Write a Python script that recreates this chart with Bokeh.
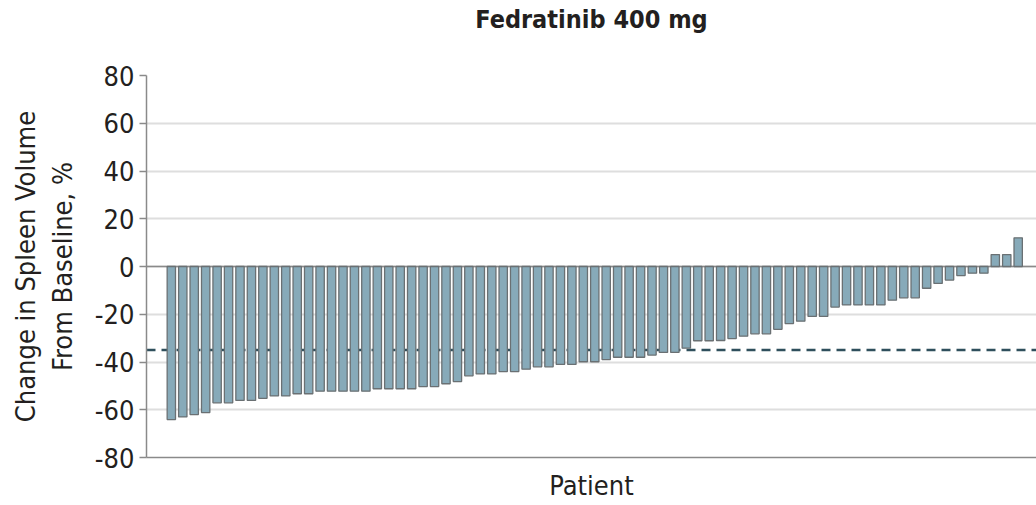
from bokeh.embed import file_html
from bokeh.models import ColumnDataSource, Range1d, Span, FixedTicker, LinearAxis
from bokeh.plotting import figure
from bokeh.resources import INLINE

# Best change in spleen volume from baseline per patient (waterfall, sorted)
change_pct = [
    -64.1, -63.0, -62.0, -61.2, -57.1, -57.1, -56.1, -56.1, -55.2, -54.2,
    -54.2, -53.3, -53.3, -52.2, -52.2, -52.2, -52.2, -52.2, -51.2, -51.2,
    -51.2, -51.2, -50.3, -50.3, -49.1, -48.2, -45.8, -45.0, -45.0, -44.0,
    -44.0, -43.0, -42.0, -42.0, -41.0, -41.0, -39.9, -39.9, -39.0, -38.0,
    -38.0, -38.0, -37.1, -36.0, -36.0, -34.2, -31.1, -31.1, -31.0, -30.2,
    -29.2, -28.2, -28.2, -26.3, -23.9, -22.9, -20.9, -20.9, -17.0, -16.1,
    -16.1, -16.1, -16.1, -14.1, -13.1, -13.1, -9.1, -7.1, -5.7, -3.8,
    -2.8, -2.8, 5.0, 5.0, 12.0,
]
patients = list(range(1, len(change_pct) + 1))
threshold = -35
y_ticks = [-80, -60, -40, -20, 0, 20, 40, 60, 80]
y_tick_labels = ["-80", "-60", "-40", "-20", "0", "20", "40", "60", "80"]

title_text = "Fedratinib 400 mg"
x_title = "Patient"
y_title = "Change in Spleen Volume\nFrom Baseline, %"

FONT = "'DejaVu Sans Condensed', Roboto, sans-serif"
TEXT_COLOR = "#231f20"
BAR_FILL = "#87aab9"
BAR_LINE = "#6a7073"
GRID = "#dedede"
AXIS = "#8a8a8a"
DASH = "#2f4f5c"

src = ColumnDataSource(dict(patient=patients, change=change_pct))

p = figure(
    width=1036, height=505,
    x_range=Range1d(-1.17, 76.6), y_range=Range1d(-80, 80),
    output_backend="svg", toolbar_location=None,
    min_border_left=146, min_border_right=0,
    min_border_top=75, min_border_bottom=48,
)
p.outline_line_color = None
p.background_fill_color = "white"
p.border_fill_color = "white"

# panel heading, carried by a tick-less axis along the top edge
top_axis = LinearAxis(ticker=FixedTicker(ticks=[]), axis_line_color=None,
                      major_tick_line_color=None, minor_tick_line_color=None,
                      axis_label=title_text, axis_label_standoff=42,
                      axis_label_text_font=FONT, axis_label_text_font_style="bold",
                      axis_label_text_font_size="25px",
                      axis_label_text_color=TEXT_COLOR)
p.add_layout(top_axis, "above")

# gridlines
p.xgrid.grid_line_color = None
p.ygrid.grid_line_color = GRID
p.ygrid.grid_line_width = 2
p.ygrid.ticker = FixedTicker(ticks=y_ticks)

# y axis
yax = p.yaxis[0]
yax.ticker = FixedTicker(ticks=y_ticks)
yax.major_label_overrides = dict(zip(y_ticks, y_tick_labels))
yax.axis_line_color = AXIS
yax.axis_line_width = 1.5
yax.major_tick_line_color = AXIS
yax.major_tick_line_width = 1.5
yax.major_tick_out = 7
yax.major_tick_in = 0
yax.minor_tick_line_color = None
yax.major_label_standoff = 5
yax.major_label_text_font = FONT
yax.major_label_text_font_size = "27px"
yax.major_label_text_color = TEXT_COLOR
yax.axis_label = y_title
yax.axis_label_text_font = FONT
yax.axis_label_text_font_style = "normal"
yax.axis_label_text_font_size = "27px"
yax.axis_label_text_color = TEXT_COLOR
yax.axis_label_standoff = 14

# x axis: plain baseline with a title, no tick labels
xax = p.below[0]
xax.ticker = FixedTicker(ticks=[])
xax.axis_line_color = AXIS
xax.axis_line_width = 1.5
xax.major_tick_line_color = None
xax.major_tick_out = 0
xax.minor_tick_line_color = None
xax.major_label_standoff = 0
xax.axis_label = x_title
xax.axis_label_text_font = FONT
xax.axis_label_text_font_style = "normal"
xax.axis_label_text_font_size = "27px"
xax.axis_label_text_color = TEXT_COLOR
xax.axis_label_standoff = 12

# reference line at -35 %
p.add_layout(Span(location=threshold, dimension="width", line_color=DASH,
                  line_width=2.5, line_dash="9 6", level="underlay"))
# zero line
p.add_layout(Span(location=0, dimension="width", line_color=AXIS,
                  line_width=1.5, level="underlay"))

p.vbar(x="patient", top="change", bottom=0, width=0.73, source=src,
       fill_color=BAR_FILL, line_color=BAR_LINE, line_width=1.3)

open("out.html", "w").write(file_html(p, INLINE))
